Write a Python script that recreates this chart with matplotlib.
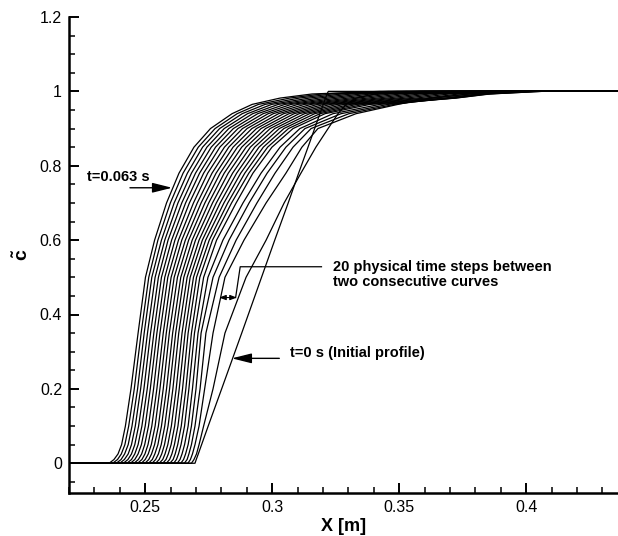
import numpy as np
import matplotlib
matplotlib.use("Agg")
import matplotlib.pyplot as plt
from matplotlib.ticker import MultipleLocator, FixedLocator

# progress-variable levels at which each curve's x position was read
C_LEVELS = [0.0, 0.01, 0.025, 0.05, 0.1, 0.2, 0.35, 0.5, 0.6, 0.7, 0.78, 0.85, 0.9, 0.94, 0.965, 0.982, 0.993, 1.0]

# x position [m] of each curve at each level
# (index 0 = t=0 initial profile ... index 24 = t=0.063 s)
X_C0000 = [0.2696, 0.2682, 0.2668, 0.2654, 0.2640, 0.2626, 0.2612, 0.2597, 0.2583, 0.2569, 0.2555, 0.2541, 0.2527,
           0.2513, 0.2499, 0.2485, 0.2470, 0.2456, 0.2442, 0.2428, 0.2414, 0.2400, 0.2386, 0.2372, 0.2358]
X_C0010 = [0.2701, 0.2692, 0.2678, 0.2665, 0.2651, 0.2637, 0.2623, 0.2610, 0.2596, 0.2582, 0.2569, 0.2555, 0.2541,
           0.2528, 0.2514, 0.2500, 0.2487, 0.2473, 0.2459, 0.2446, 0.2432, 0.2418, 0.2405, 0.2391, 0.2377]
X_C0025 = [0.2709, 0.2702, 0.2686, 0.2672, 0.2659, 0.2645, 0.2631, 0.2618, 0.2605, 0.2591, 0.2578, 0.2565, 0.2552,
           0.2538, 0.2525, 0.2512, 0.2499, 0.2486, 0.2472, 0.2459, 0.2446, 0.2433, 0.2419, 0.2406, 0.2393]
X_C0050 = [0.2722, 0.2712, 0.2696, 0.2682, 0.2669, 0.2655, 0.2641, 0.2628, 0.2615, 0.2602, 0.2589, 0.2576, 0.2563,
           0.2550, 0.2537, 0.2524, 0.2511, 0.2498, 0.2485, 0.2472, 0.2459, 0.2446, 0.2433, 0.2420, 0.2407]
X_C0100 = [0.2748, 0.2730, 0.2712, 0.2696, 0.2682, 0.2669, 0.2655, 0.2642, 0.2629, 0.2616, 0.2603, 0.2590, 0.2577,
           0.2564, 0.2552, 0.2539, 0.2526, 0.2513, 0.2500, 0.2487, 0.2474, 0.2461, 0.2448, 0.2435, 0.2422]
X_C0200 = [0.2801, 0.2767, 0.2734, 0.2716, 0.2700, 0.2686, 0.2672, 0.2660, 0.2647, 0.2634, 0.2622, 0.2609, 0.2596,
           0.2584, 0.2571, 0.2558, 0.2546, 0.2533, 0.2520, 0.2508, 0.2495, 0.2482, 0.2470, 0.2457, 0.2444]
X_C0350 = [0.2880, 0.2814, 0.2767, 0.2739, 0.2720, 0.2708, 0.2694, 0.2682, 0.2669, 0.2657, 0.2645, 0.2632, 0.2620,
           0.2608, 0.2595, 0.2583, 0.2571, 0.2558, 0.2546, 0.2534, 0.2521, 0.2509, 0.2496, 0.2484, 0.2472]
X_C0500 = [0.2958, 0.2897, 0.2814, 0.2791, 0.2767, 0.2747, 0.2730, 0.2715, 0.2702, 0.2690, 0.2677, 0.2665, 0.2652,
           0.2640, 0.2627, 0.2614, 0.2602, 0.2589, 0.2577, 0.2564, 0.2552, 0.2539, 0.2526, 0.2514, 0.2501]
X_C0600 = [0.3010, 0.2976, 0.2889, 0.2858, 0.2830, 0.2806, 0.2781, 0.2765, 0.2752, 0.2738, 0.2725, 0.2712, 0.2698,
           0.2685, 0.2671, 0.2658, 0.2644, 0.2631, 0.2617, 0.2604, 0.2590, 0.2577, 0.2564, 0.2550, 0.2537]
X_C0700 = [0.3063, 0.3047, 0.2976, 0.2940, 0.2909, 0.2885, 0.2858, 0.2840, 0.2825, 0.2810, 0.2795, 0.2780, 0.2765,
           0.2750, 0.2735, 0.2720, 0.2705, 0.2690, 0.2674, 0.2659, 0.2644, 0.2629, 0.2614, 0.2599, 0.2584]
X_C0780 = [0.3104, 0.3113, 0.3054, 0.3011, 0.2980, 0.2956, 0.2924, 0.2908, 0.2892, 0.2876, 0.2860, 0.2844, 0.2827,
           0.2811, 0.2795, 0.2779, 0.2763, 0.2746, 0.2730, 0.2714, 0.2698, 0.2682, 0.2666, 0.2649, 0.2633]
X_C0850 = [0.3141, 0.3172, 0.3117, 0.3082, 0.3054, 0.3031, 0.2999, 0.2982, 0.2965, 0.2948, 0.2931, 0.2914, 0.2897,
           0.2880, 0.2863, 0.2846, 0.2829, 0.2812, 0.2794, 0.2777, 0.2760, 0.2743, 0.2726, 0.2709, 0.2692]
X_C0900 = [0.3167, 0.3220, 0.3180, 0.3153, 0.3129, 0.3109, 0.3082, 0.3064, 0.3046, 0.3028, 0.3010, 0.2992, 0.2974,
           0.2956, 0.2938, 0.2920, 0.2901, 0.2883, 0.2865, 0.2847, 0.2829, 0.2811, 0.2793, 0.2775, 0.2757]
X_C0940 = [0.3188, 0.3259, 0.3330, 0.3302, 0.3271, 0.3239, 0.3208, 0.3188, 0.3167, 0.3147, 0.3127, 0.3106, 0.3086,
           0.3066, 0.3045, 0.3025, 0.3004, 0.2984, 0.2964, 0.2943, 0.2923, 0.2903, 0.2882, 0.2862, 0.2842]
X_C0965 = [0.3201, 0.3291, 0.3495, 0.3480, 0.3456, 0.3424, 0.3385, 0.3359, 0.3333, 0.3308, 0.3282, 0.3256, 0.3230,
           0.3204, 0.3179, 0.3153, 0.3127, 0.3101, 0.3075, 0.3050, 0.3024, 0.2998, 0.2972, 0.2946, 0.2921]
X_C0982 = [0.3210, 0.3330, 0.3621, 0.3680, 0.3708, 0.3724, 0.3720, 0.3681, 0.3643, 0.3605, 0.3567, 0.3528, 0.3490,
           0.3452, 0.3414, 0.3375, 0.3337, 0.3299, 0.3260, 0.3222, 0.3184, 0.3146, 0.3107, 0.3069, 0.3031]
X_C0993 = [0.3216, 0.3405, 0.3779, 0.3818, 0.3838, 0.3858, 0.3850, 0.3812, 0.3773, 0.3735, 0.3696, 0.3658, 0.3619,
           0.3581, 0.3542, 0.3504, 0.3465, 0.3427, 0.3388, 0.3350, 0.3311, 0.3273, 0.3234, 0.3196, 0.3157]
X_C1000 = [0.3221, 0.3582, 0.3950, 0.4000, 0.4030, 0.4060, 0.4060, 0.4025, 0.3989, 0.3954, 0.3919, 0.3883, 0.3848,
           0.3813, 0.3777, 0.3742, 0.3707, 0.3671, 0.3636, 0.3601, 0.3565, 0.3530, 0.3495, 0.3459, 0.3424]

X_TABLE = np.array([X_C0000, X_C0010, X_C0025, X_C0050, X_C0100, X_C0200, X_C0350, X_C0500, X_C0600,
                    X_C0700, X_C0780, X_C0850, X_C0900, X_C0940, X_C0965, X_C0982, X_C0993, X_C1000])
X_MIN, X_MAX = 0.22, 0.44

X_TICKS = [0.25, 0.3, 0.35, 0.4]
X_TICK_LABELS = ["0.25", "0.3", "0.35", "0.4"]
Y_TICKS = [0, 0.2, 0.4, 0.6, 0.8, 1.0, 1.2]
Y_TICK_LABELS = ["0", "0.2", "0.4", "0.6", "0.8", "1", "1.2"]

plt.rcParams['font.family'] = ['Liberation Sans', 'DejaVu Sans']
plt.rcParams['mathtext.fontset'] = 'custom'
plt.rcParams['mathtext.rm'] = 'Liberation Sans'
plt.rcParams['mathtext.bf'] = 'Liberation Sans:bold'

W, H = 618, 536
fig = plt.figure(figsize=(W / 100, H / 100), dpi=100)
ax = fig.add_axes([69 / W, 1 - 493 / H, 1 - 69 / W, (493 - 17) / H])

for k in range(X_TABLE.shape[1]):
    xs = np.concatenate([[X_MIN], X_TABLE[:, k], [X_MAX]])
    ys = np.concatenate([[0.0], C_LEVELS, [1.0]])
    ax.plot(xs, ys, color='black', lw=0.9, solid_joinstyle='round')

ax.set_xlim(0.22, 0.22 + 549 / 2540)
ax.set_ylim(-0.08, 1.2)
for s in ['top', 'right']:
    ax.spines[s].set_visible(False)
for s in ['left', 'bottom']:
    ax.spines[s].set_linewidth(1.8)

ax.xaxis.set_major_locator(FixedLocator(X_TICKS))
ax.set_xticklabels(X_TICK_LABELS)
ax.yaxis.set_major_locator(FixedLocator(Y_TICKS))
ax.set_yticklabels(Y_TICK_LABELS)
ax.xaxis.set_minor_locator(MultipleLocator(0.01))
ax.yaxis.set_minor_locator(MultipleLocator(0.05))
ax.tick_params(which='major', direction='in', length=7.5, width=1.4, labelsize=11.5, pad=5)
ax.tick_params(which='minor', direction='in', length=4, width=1.1)
ax.tick_params(axis='y', which='both', right=False)
ax.tick_params(axis='x', which='both', top=False)

ax.set_xlabel('X [m]', fontsize=13, fontweight='bold', labelpad=2)
ax.set_ylabel(r'$\mathbf{\tilde{c}}$', fontsize=14)
ax.yaxis.set_label_coords(-0.068, 0.5)

afs = 10.5
ax.text(0.2271, 0.7704, 't=0.063 s', fontsize=afs, fontweight='bold', va='center', ha='left')
ax.annotate('', xy=(0.2606, 0.7408), xytext=(0.2440, 0.7408),
            arrowprops=dict(arrowstyle='-|>,head_length=1.2,head_width=0.3', color='black', lw=1.0,
                            shrinkA=0, shrinkB=0))

ax.text(0.3239, 0.5284, '20 physical time steps between', fontsize=afs, fontweight='bold', va='center', ha='left')
ax.text(0.3239, 0.4864, 'two consecutive curves', fontsize=afs, fontweight='bold', va='center', ha='left')
ax.plot([0.3194, 0.2874, 0.2856], [0.5284, 0.5284, 0.4456], color='black', lw=0.9)
ax.annotate('', xy=(0.2791, 0.4456), xytext=(0.2861, 0.4456),
            arrowprops=dict(arrowstyle='<|-|>,head_length=0.4,head_width=0.15', color='black', lw=0.8,
                            shrinkA=0, shrinkB=0))

ax.text(0.3070, 0.2955, 't=0 s (Initial profile)', fontsize=afs, fontweight='bold', va='center', ha='left')
ax.annotate('', xy=(0.2841, 0.2821), xytext=(0.3028, 0.2821),
            arrowprops=dict(arrowstyle='-|>,head_length=1.2,head_width=0.3', color='black', lw=1.0,
                            shrinkA=0, shrinkB=0))

fig.savefig('out.png', dpi=100)
